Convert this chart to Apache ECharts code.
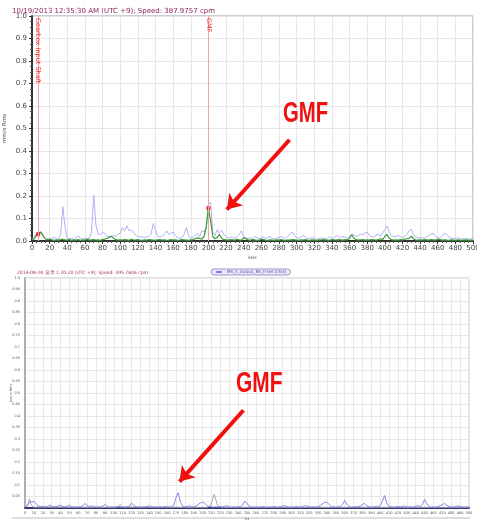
<!DOCTYPE html>
<html>
<head>
<meta charset="utf-8">
<script src="https://cdn.jsdelivr.net/npm/echarts@6/dist/echarts.min.js"></script>
<style>
  html, body { margin: 0; padding: 0; background: #fff; }
  #chart { width: 477px; height: 520px; }
</style>
</head>
<body>
<div id="chart"></div>
<script>
// Spectrum bins are 2.5 Hz apart, 0..500
const binStep = 2.5;

// Upper spectrum (2013-10-19): light blue trace
const upperBlue = [
  0.01, 0.02, 0.035, 0.04, 0.04, 0.02, 0.01, 0.008, 0.01, 0.012, 0.018, 0.01, 0.008, 0.03, 0.152, 0.06, 0.01, 0.012, 0.01, 0.008,
  0.015, 0.022, 0.012, 0.008, 0.01, 0.012, 0.01, 0.04, 0.205, 0.07, 0.03, 0.028, 0.038, 0.035, 0.02, 0.02, 0.018, 0.025, 0.02, 0.03,
  0.035, 0.06, 0.045, 0.068, 0.045, 0.05, 0.04, 0.025, 0.02, 0.018, 0.02, 0.015, 0.018, 0.02, 0.03, 0.078, 0.05, 0.02, 0.018, 0.022,
  0.03, 0.045, 0.03, 0.035, 0.04, 0.025, 0.015, 0.012, 0.015, 0.03, 0.06, 0.025, 0.012, 0.015, 0.025, 0.035, 0.02, 0.045, 0.04, 0.06,
  0.165, 0.17, 0.04, 0.025, 0.05, 0.035, 0.048, 0.03, 0.02, 0.012, 0.018, 0.015, 0.012, 0.02, 0.03, 0.045, 0.02, 0.012, 0.01, 0.015,
  0.012, 0.02, 0.015, 0.01, 0.012, 0.018, 0.01, 0.015, 0.02, 0.012, 0.008, 0.012, 0.015, 0.02, 0.015, 0.012, 0.02, 0.03, 0.04, 0.025,
  0.015, 0.012, 0.018, 0.025, 0.015, 0.012, 0.01, 0.015, 0.012, 0.008, 0.01, 0.012, 0.015, 0.01, 0.012, 0.02, 0.012, 0.015, 0.025, 0.02,
  0.015, 0.02, 0.018, 0.012, 0.02, 0.03, 0.025, 0.02, 0.025, 0.03, 0.028, 0.035, 0.04, 0.025, 0.02, 0.018, 0.025, 0.03, 0.02, 0.035,
  0.05, 0.067, 0.04, 0.025, 0.02, 0.018, 0.025, 0.02, 0.015, 0.02, 0.03, 0.045, 0.052, 0.03, 0.018, 0.015, 0.012, 0.015, 0.012, 0.02,
  0.025, 0.03, 0.035, 0.02, 0.015, 0.012, 0.02, 0.035, 0.03, 0.018, 0.012, 0.01, 0.012, 0.015, 0.01, 0.008, 0.012, 0.01, 0.008, 0.01,
  0.01
];

// Upper spectrum: green trace
const upperGreen = [
  0.005, 0.01, 0.025, 0.03, 0.04, 0.025, 0.01, 0.005, 0.008, 0.005, 0.003, 0.005, 0.004, 0.006, 0.008, 0.005, 0.004, 0.006, 0.003, 0.005,
  0.004, 0.006, 0.003, 0.005, 0.004, 0.007, 0.004, 0.005, 0.006, 0.004, 0.005, 0.003, 0.006, 0.008, 0.012, 0.015, 0.022, 0.012, 0.006, 0.004,
  0.005, 0.004, 0.006, 0.005, 0.003, 0.007, 0.005, 0.004, 0.006, 0.004, 0.003, 0.005, 0.004, 0.006, 0.005, 0.004, 0.003, 0.005, 0.006, 0.004,
  0.005, 0.003, 0.004, 0.006, 0.004, 0.005, 0.003, 0.004, 0.006, 0.005, 0.004, 0.003, 0.005, 0.006, 0.01, 0.014, 0.012, 0.008, 0.02, 0.06,
  0.148, 0.09, 0.02, 0.01, 0.015, 0.03, 0.012, 0.006, 0.005, 0.004, 0.006, 0.005, 0.004, 0.008, 0.005, 0.004, 0.015, 0.01, 0.005, 0.004,
  0.006, 0.005, 0.003, 0.004, 0.008, 0.006, 0.004, 0.003, 0.005, 0.004, 0.003, 0.005, 0.004, 0.006, 0.004, 0.003, 0.005, 0.004, 0.006, 0.005,
  0.004, 0.003, 0.005, 0.004, 0.006, 0.004, 0.003, 0.005, 0.004, 0.003, 0.005, 0.004, 0.006, 0.005, 0.004, 0.003, 0.006, 0.005, 0.004, 0.006,
  0.005, 0.004, 0.006, 0.005, 0.012, 0.028, 0.012, 0.006, 0.004, 0.005, 0.006, 0.004, 0.005, 0.004, 0.006, 0.005, 0.004, 0.006, 0.01, 0.006,
  0.02, 0.03, 0.012, 0.006, 0.004, 0.005, 0.004, 0.006, 0.005, 0.008, 0.01, 0.012, 0.022, 0.01, 0.005, 0.004, 0.005, 0.004, 0.006, 0.005,
  0.004, 0.006, 0.005, 0.004, 0.008, 0.006, 0.004, 0.005, 0.004, 0.003, 0.005, 0.004, 0.003, 0.005, 0.004, 0.003, 0.004, 0.005, 0.003, 0.004,
  0.003
];

// Cursor peaks on the upper spectrum
const upperPeakFreq = [7, 200];
const upperPeakAmp = [0.03, 0.146];

// Fault-frequency cursors on the upper spectrum
const cursorFreq = [7, 200];
const cursorNames = ['Gearbox Input Shaft', 'GMF'];

// Lower spectrum (2014-08-28): blue trace
const lowerBlue = [
  0.005, 0.01, 0.025, 0.028, 0.028, 0.02, 0.008, 0.006, 0.008, 0.005, 0.006, 0.012, 0.008, 0.005, 0.006, 0.01, 0.012, 0.006, 0.004, 0.008,
  0.012, 0.006, 0.004, 0.005, 0.004, 0.006, 0.01, 0.02, 0.01, 0.006, 0.01, 0.006, 0.004, 0.005, 0.004, 0.008, 0.015, 0.008, 0.004, 0.005,
  0.004, 0.005, 0.006, 0.004, 0.005, 0.004, 0.005, 0.008, 0.022, 0.01, 0.005, 0.004, 0.005, 0.004, 0.005, 0.006, 0.01, 0.005, 0.004, 0.005,
  0.004, 0.005, 0.004, 0.006, 0.005, 0.004, 0.005, 0.012, 0.045, 0.066, 0.025, 0.008, 0.005, 0.006, 0.01, 0.006, 0.005, 0.008, 0.015, 0.022,
  0.025, 0.02, 0.01, 0.006, 0.005, 0.004, 0.005, 0.004, 0.006, 0.005, 0.008, 0.01, 0.005, 0.004, 0.005, 0.004, 0.005, 0.006, 0.012, 0.03,
  0.02, 0.008, 0.004, 0.005, 0.004, 0.005, 0.004, 0.006, 0.005, 0.004, 0.005, 0.004, 0.006, 0.005, 0.004, 0.005, 0.008, 0.01, 0.006, 0.004,
  0.005, 0.004, 0.006, 0.005, 0.004, 0.006, 0.01, 0.008, 0.005, 0.004, 0.005, 0.004, 0.006, 0.01, 0.018, 0.024, 0.025, 0.015, 0.006, 0.005,
  0.004, 0.005, 0.006, 0.015, 0.033, 0.015, 0.005, 0.004, 0.005, 0.006, 0.005, 0.008, 0.015, 0.02, 0.01, 0.005, 0.004, 0.005, 0.006, 0.005,
  0.01, 0.03, 0.054, 0.02, 0.006, 0.005, 0.004, 0.005, 0.006, 0.005, 0.006, 0.01, 0.005, 0.004, 0.005, 0.004, 0.008, 0.01, 0.006, 0.015,
  0.037, 0.02, 0.006, 0.004, 0.005, 0.004, 0.006, 0.01, 0.015, 0.02, 0.012, 0.006, 0.005, 0.004, 0.006, 0.01, 0.006, 0.005, 0.004, 0.005,
  0.004
];

// Lower spectrum: grey reference trace (sparse points)
const lowerGreyFreq = [0, 3, 5, 7, 9, 100, 104, 107, 110, 205, 209, 213, 217, 221, 500];
const lowerGreyAmp = [0.003, 0.01, 0.04, 0.015, 0.004, 0.003, 0.004, 0.015, 0.004, 0.003, 0.01, 0.059, 0.01, 0.003, 0.003];

// Arrows pointing at the gear-mesh peak: [fromFreq, fromAmp, toFreq, toAmp]
const upperArrow = [292, 0.45, 221, 0.14];
const lowerArrow = [246, 0.425, 174, 0.115];

const upperTitle = '10/19/2013 12:35:30 AM (UTC +9); Speed: 387.9757 cpm';
const lowerTitle = '2014-08-28 오후 1:20:20 (UTC +9); Speed: 395.7606 cpm';
const lowerSeriesName = 'MS_X_Output_BS_H Vel 0.5(4)';

const pairs = (xs, ys) => ys.map((y, i) => [xs[i], y]);
const binned = ys => ys.map((y, i) => [i * binStep, y]);

const chart = echarts.init(document.getElementById('chart'), null, { renderer: 'canvas' });

const baseFont = 'DejaVu Sans';
const calloutFont = 'bold 29px "Liberation Sans", Arial, sans-serif';

const option = {
  animation: false,
  backgroundColor: '#ffffff',
  title: [
    { text: upperTitle, left: 7, top: 3, textStyle: { fontSize: 7, fontWeight: 'normal', color: '#8b2258', fontFamily: baseFont } },
    { text: lowerTitle, left: 12, top: 265, textStyle: { fontSize: 4.5, fontWeight: 'normal', color: '#a0306a', fontFamily: baseFont } }
  ],
  legend: {
    data: [lowerSeriesName],
    left: 211, top: 269,
    itemWidth: 6, itemHeight: 2, itemGap: 2,
    padding: [1, 4],
    backgroundColor: '#eceaf8',
    borderColor: '#9a98c8', borderWidth: 1, borderRadius: 4,
    textStyle: { fontSize: 4, color: '#5050b0', fontFamily: baseFont }
  },
  grid: [
    { left: 32, top: 16, width: 441, height: 225, show: true, borderColor: '#9a9a9a', borderWidth: 1,
      containLabel: false, outerBoundsMode: 'none' },
    { left: 25, top: 278, width: 444, height: 230, show: true, borderColor: '#c4c4c4', borderWidth: 1,
      containLabel: false, outerBoundsMode: 'none' }
  ],
  xAxis: [
    {
      gridIndex: 0, type: 'value', min: 0, max: 500, interval: 20,
      name: 'kHz', nameLocation: 'middle', nameGap: 14, nameMoveOverlap: false,
      nameTextStyle: { fontSize: 4.5, color: '#555', fontFamily: baseFont },
      axisLine: { show: true, lineStyle: { color: '#333', width: 2 } },
      axisTick: { show: true, length: 3, lineStyle: { color: '#333' } },
      minorTick: { show: true, splitNumber: 4, length: 2, lineStyle: { color: '#555' } },
      axisLabel: { fontSize: 7, color: '#444', margin: 4, fontFamily: baseFont },
      splitLine: { show: true, lineStyle: { color: '#e6e6e6', width: 1 } }
    },
    {
      gridIndex: 1, type: 'value', min: 0, max: 500, interval: 10,
      name: 'Hz', nameLocation: 'middle', nameGap: 9, nameMoveOverlap: false,
      nameTextStyle: { fontSize: 3.5, color: '#666', fontFamily: baseFont },
      axisLine: { show: true, lineStyle: { color: '#34346e', width: 2 } },
      axisTick: { show: false },
      axisLabel: { fontSize: 3.5, color: '#555', margin: 3, fontFamily: baseFont },
      splitLine: { show: true, lineStyle: { color: '#e8e8e8', width: 1 } }
    }
  ],
  yAxis: [
    {
      gridIndex: 0, type: 'value', min: 0, max: 1, interval: 0.1,
      name: 'mm/s Rms', nameLocation: 'middle', nameGap: 24, nameRotate: 90, nameMoveOverlap: false,
      nameTextStyle: { fontSize: 5.5, color: '#444', fontFamily: baseFont },
      axisLine: { show: true, lineStyle: { color: '#333', width: 2 } },
      axisTick: { show: true, length: 3, lineStyle: { color: '#333' } },
      minorTick: { show: true, splitNumber: 4, length: 2, lineStyle: { color: '#555' } },
      axisLabel: { fontSize: 7, color: '#444', margin: 5, fontFamily: baseFont, formatter: v => v.toFixed(1) },
      splitLine: { show: true, lineStyle: { color: '#e6e6e6', width: 1 } }
    },
    {
      gridIndex: 1, type: 'value', min: 0, max: 1, interval: 0.05,
      name: 'mm/s Rms', nameLocation: 'middle', nameGap: 12, nameRotate: 90, nameMoveOverlap: false,
      nameTextStyle: { fontSize: 3.5, color: '#666', fontFamily: baseFont },
      axisLine: { show: true, lineStyle: { color: '#b0b0b0', width: 2 } },
      axisTick: { show: false },
      axisLabel: {
        fontSize: 3.5, color: '#555', margin: 5, fontFamily: baseFont, showMinLabel: false,
        formatter: v => (Math.abs(v * 10 - Math.round(v * 10)) < 1e-6 ? v.toFixed(1) : v.toFixed(2))
      },
      splitLine: { show: true, lineStyle: { color: '#e8e8e8', width: 1 } }
    }
  ],
  graphic: [
    // GMF call-outs
    { type: 'text', x: 283, y: 99, scaleX: 0.7, z: 10,
      style: { text: 'GMF', fill: '#f01010', stroke: null, lineWidth: 0, font: calloutFont } },
    { type: 'text', x: 236, y: 369, scaleX: 0.72, z: 10,
      style: { text: 'GMF', fill: '#f01010', stroke: null, lineWidth: 0, font: calloutFont } },
    // strip under the lower chart
    { type: 'rect', shape: { x: 12, y: 517, width: 458, height: 2 }, style: { fill: '#dedede' } }
  ],
  series: [
    {
      name: 'upper-blue', type: 'line', xAxisIndex: 0, yAxisIndex: 0,
      data: binned(upperBlue), showSymbol: false, symbol: 'none',
      lineStyle: { color: '#aeb2f2', width: 1 }, z: 2
    },
    {
      name: 'upper-green', type: 'line', xAxisIndex: 0, yAxisIndex: 0,
      data: binned(upperGreen), showSymbol: false, symbol: 'none',
      lineStyle: { color: '#3c9a3c', width: 1.2 }, z: 3,
      markLine: {
        silent: true, symbol: 'none',
        lineStyle: { color: '#f7a0a0', width: 1, type: 'solid' },
        label: { show: true, position: 'insideStart', distance: 2, color: '#e83030', fontSize: 6.5, fontFamily: baseFont },
        data: cursorFreq.map((f, i) => [
          { coord: [f, 1], label: { formatter: cursorNames[i] } },
          { coord: [f, 0] }
        ])
      }
    },
    {
      name: 'upper-peaks', type: 'scatter', xAxisIndex: 0, yAxisIndex: 0,
      data: pairs(upperPeakFreq, upperPeakAmp), symbol: 'rect', symbolSize: 4,
      itemStyle: { color: '#ee1111' }, z: 4,
      markLine: {
        silent: true, symbol: ['none', 'arrow'], symbolSize: 14,
        lineStyle: { color: '#f01010', width: 4, type: 'solid' },
        itemStyle: { color: '#f01010' },
        label: { show: false },
        data: [[{ coord: [upperArrow[0], upperArrow[1]] }, { coord: [upperArrow[2], upperArrow[3]] }]]
      }
    },
    {
      name: 'lower-grey', type: 'line', xAxisIndex: 1, yAxisIndex: 1,
      data: pairs(lowerGreyFreq, lowerGreyAmp), showSymbol: false, symbol: 'none',
      lineStyle: { color: '#a8a8a8', width: 1 }, z: 2
    },
    {
      name: lowerSeriesName, type: 'line', xAxisIndex: 1, yAxisIndex: 1,
      data: binned(lowerBlue), showSymbol: false, symbol: 'none',
      itemStyle: { color: '#7a7ae8' },
      lineStyle: { color: '#8686ec', width: 1 }, z: 3,
      markLine: {
        silent: true, symbol: ['none', 'arrow'], symbolSize: 14,
        lineStyle: { color: '#f01010', width: 4, type: 'solid' },
        itemStyle: { color: '#f01010' },
        label: { show: false },
        data: [[{ coord: [lowerArrow[0], lowerArrow[1]] }, { coord: [lowerArrow[2], lowerArrow[3]] }]]
      }
    }
  ]
};

chart.setOption(option);
</script>
</body>
</html>
